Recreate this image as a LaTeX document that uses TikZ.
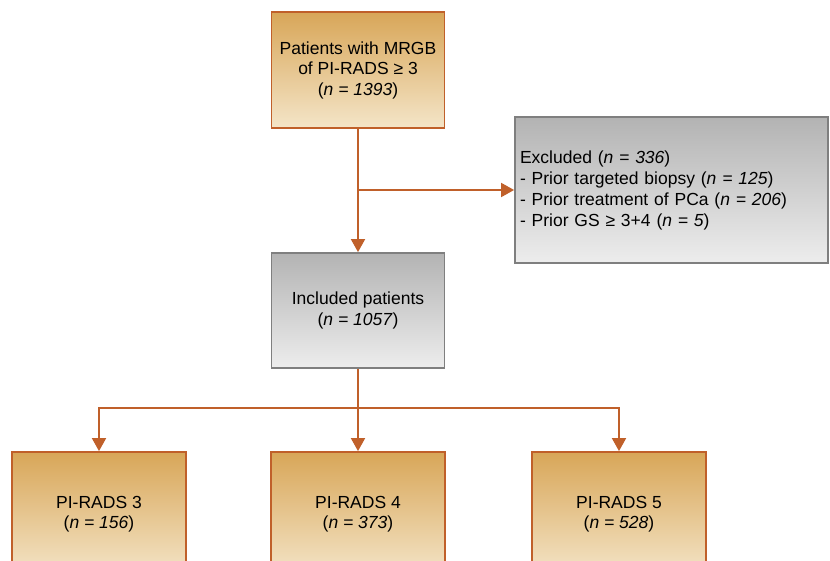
\documentclass[tikz,border=0pt]{standalone}
\usepackage{fontspec}
\setmainfont{Liberation Sans}
\usetikzlibrary{arrows.meta,positioning}
\definecolor{orline}{HTML}{C0602A}
\definecolor{ortop}{HTML}{D8A658}
\definecolor{orbot}{HTML}{F4E5C8}
\definecolor{grline}{HTML}{7F7F7F}
\definecolor{grtop}{HTML}{B3B3B3}
\definecolor{grbot}{HTML}{EDEDED}
\tikzset{
  orbox/.style={draw=orline, line width=1.8pt, top color=ortop, bottom color=orbot, inner sep=0pt, align=center, font=\fontsize{17.5}{20.5}\selectfont},
  grbox/.style={draw=grline, line width=1.8pt, top color=grtop, bottom color=grbot, inner sep=0pt, font=\fontsize{17.5}{21}\selectfont},
  conn/.style={draw=orline, line width=1.8pt},
  arr/.style={conn, -{Triangle[width=14pt,length=13pt]}}
}
\begin{document}
\begin{tikzpicture}[x=1pt,y=-1pt]
\useasboundingbox (0,0) rectangle (830,561);
\clip (0,0) rectangle (830,561);
\fill[white] (0,0) rectangle (830,561);
\node[orbox, minimum width=173pt, minimum height=116pt] (top) at (358,70) {Patients with MRGB\\of PI-RADS ≥ 3\\(\textit{n = 1393})};
\node[grbox, minimum width=313pt, minimum height=146pt, align=left, text width=303pt] (exc) at (671.5,190) {Excluded (\textit{n = 336})\\- Prior targeted biopsy (\textit{n = 125})\\- Prior treatment of PCa (\textit{n = 206})\\- Prior GS ≥ 3+4 (\textit{n = 5})};
\node[grbox, align=center, minimum width=173pt, minimum height=115pt] (inc) at (358,310.5) {Included patients\\(\textit{n = 1057})};
\node[orbox, minimum width=174pt, minimum height=124pt] (p3) at (99,514) {PI-RADS 3\\(\textit{n = 156})};
\node[orbox, minimum width=174pt, minimum height=124pt] (p4) at (358,514) {PI-RADS 4\\(\textit{n = 373})};
\node[orbox, minimum width=174pt, minimum height=124pt] (p5) at (619,514) {PI-RADS 5\\(\textit{n = 528})};
\coordinate (br) at (358,190);
\coordinate (sp) at (358,408);
\draw[arr] (top.south) -- (inc.north);
\draw[arr] (br) -- (exc.west);
\draw[conn] (inc.south) -- (sp);
\draw[arr] (sp) -| (p3.north);
\draw[arr] (sp) -| (p5.north);
\draw[arr] (sp) -- (sp |- p4.north);
\end{tikzpicture}
\end{document}
